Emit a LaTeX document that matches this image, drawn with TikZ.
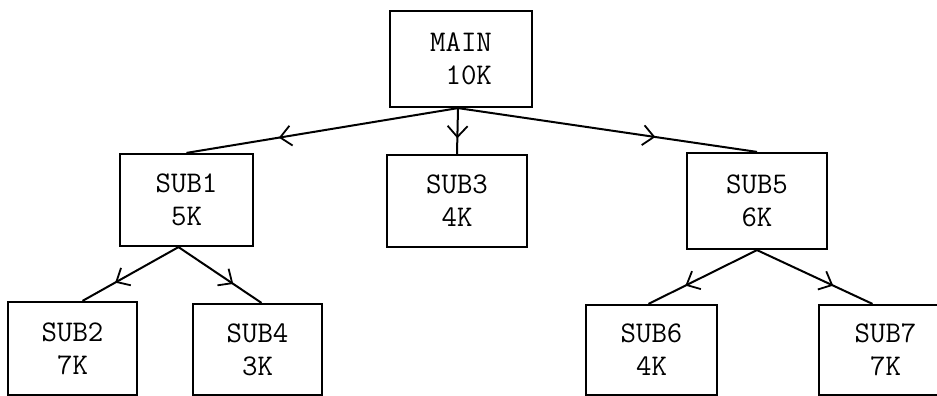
\documentclass[tikz,border=0pt]{standalone}
\usetikzlibrary{arrows.meta,decorations.markings}
\begin{document}
\begin{tikzpicture}[x=1pt,y=-1pt,
  box/.style={draw,line width=2.2pt,rectangle,inner sep=0pt,
    font=\ttfamily\fontsize{30}{33}\selectfont,align=center},
  link/.style={line width=2pt,
    postaction={decorate},
    decoration={markings,mark=at position 0.66 with {\arrow{Straight Barb[length=11pt,width=20pt,line width=1.8pt]}}}}
]
\clip (0,0) rectangle (937,396);
\fill[white] (0,0) rectangle (937,396);
\node[box,minimum width=142pt,minimum height=96pt,align=right] (main) at (461,59) {MAIN\\10K};
\node[box,minimum width=133pt,minimum height=92pt] (sub1) at (186.5,200) {SUB1\\5K};
\node[box,minimum width=140pt,minimum height=92pt] (sub3) at (457,201) {SUB3\\4K};
\node[box,minimum width=140pt,minimum height=96pt] (sub5) at (757,201) {SUB5\\6K};
\node[box,minimum width=129pt,minimum height=93pt] (sub2) at (72.5,348.5) {SUB2\\7K};
\node[box,minimum width=129pt,minimum height=91pt] (sub4) at (257.5,349.5) {SUB4\\3K};
\node[box,minimum width=131pt,minimum height=90pt] (sub6) at (651.5,350) {SUB6\\4K};
\node[box,minimum width=133pt,minimum height=90pt] (sub7) at (885.5,350) {SUB7\\7K};
\draw[link] ([xshift=-3pt]main.south) -- (sub1.north);
\draw[link] ([xshift=-3pt]main.south) -- (sub3.north);
\draw[link] ([xshift=-3pt]main.south) -- (sub5.north);
\draw[link] ([xshift=-8pt]sub1.south) -- ([xshift=10pt]sub2.north);
\draw[link] ([xshift=-8pt]sub1.south) -- ([xshift=4pt]sub4.north);
\draw[link] (sub5.south) -- ([xshift=-3pt]sub6.north);
\draw[link] (sub5.south) -- ([xshift=-13pt]sub7.north);
\end{tikzpicture}
\end{document}
